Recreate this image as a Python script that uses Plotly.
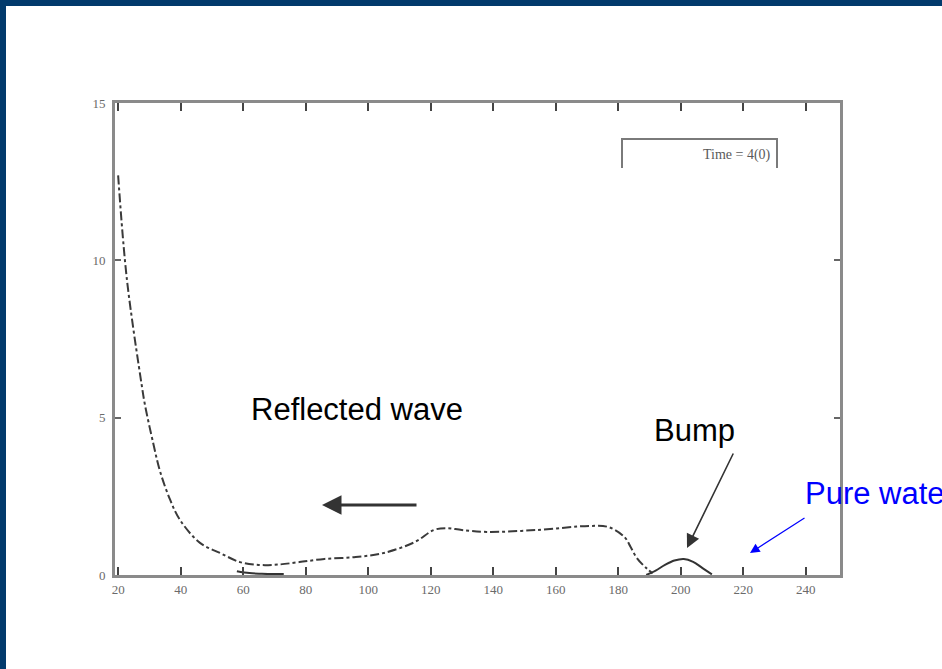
import plotly.graph_objects as go

# Dashed trace: "Time = 4(0)"
wave_x = [20, 22.8, 27.6, 28.6, 31.2, 33.4, 36.6, 39.8, 46.2, 52.6, 59, 65, 71, 78, 86, 96,
          105, 115, 121, 125, 130, 138, 154, 171, 177, 182, 184, 186, 189, 191]
wave_y = [12.7, 9.4, 6.0, 5.4, 4.2, 3.3, 2.4, 1.75, 1.02, 0.70, 0.41, 0.32, 0.33, 0.41, 0.51, 0.57,
          0.70, 1.05, 1.43, 1.49, 1.43, 1.37, 1.43, 1.56, 1.52, 1.21, 0.89, 0.54, 0.22, 0.05]

# Solid trace near the base line and the bump
solid_x = [58, 62, 66, 70, 73, None, 189, 192, 195, 198, 201, 204, 207, 210]
solid_y = [0.12, 0.06, 0.04, 0.03, 0.03, None, 0.0, 0.14, 0.32, 0.46, 0.51, 0.42, 0.22, 0.02]

x_ticks = [20, 40, 60, 80, 100, 120, 140, 160, 180, 200, 220, 240]
y_ticks = [0, 5, 10, 15]
legend_label = "Time = 4(0)"

NAVY = "#023a6c"
AXIS = "#8a8a8a"
TICKFONT = dict(family="Liberation Serif", size=13, color="#6a6a6a")

fig = go.Figure()
fig.add_trace(go.Scatter(x=wave_x, y=wave_y, mode="lines", name=legend_label,
                         line=dict(color="#3a3a3a", width=2, dash="dashdot", shape="spline"),
                         showlegend=False))
fig.add_trace(go.Scatter(x=solid_x, y=solid_y, mode="lines", name="bump",
                         line=dict(color="#333333", width=2, shape="spline"),
                         showlegend=False, connectgaps=False))

fig.update_xaxes(range=[19, 251], tickvals=x_ticks, ticktext=[str(v) for v in x_ticks],
                 showgrid=False, zeroline=False, showline=True, linecolor=AXIS, linewidth=3,
                 mirror="ticks", ticks="inside", ticklen=8, tickwidth=2, tickcolor="#444444",
                 tickfont=TICKFONT)
fig.update_yaxes(range=[0, 15], tickvals=y_ticks, ticktext=[str(v) for v in y_ticks],
                 showgrid=False, zeroline=False, showline=True, linecolor=AXIS, linewidth=3,
                 mirror="ticks", ticks="inside", ticklen=6, tickwidth=1.5, tickcolor="#666666",
                 tickfont=TICKFONT, ticklabelstandoff=4)

W, H = 942, 669
L, R, T, B = 115, 102, 103, 94
pw, ph = W - L - R, H - T - B

def px(xp):
    return (xp - L) / pw

def py(yp):
    return (H - B - yp) / ph

shapes = [
    # legend bracket
    dict(type="path", xref="paper", yref="paper",
         path=f"M {px(622)} {py(168)} L {px(622)} {py(139)} L {px(777)} {py(139)} L {px(777)} {py(168)}",
         line=dict(color="#7a7a7a", width=2)),
    # navy strips (top and left)
    dict(type="rect", xref="paper", yref="paper", x0=px(0), x1=px(W + 10),
         y0=py(6), y1=py(-10), line=dict(width=0), fillcolor=NAVY),
    dict(type="rect", xref="paper", yref="paper", x0=px(-10), x1=px(6),
         y0=py(H + 10), y1=py(-10), line=dict(width=0), fillcolor=NAVY),
]

annotations = [
    dict(xref="paper", yref="paper", x=px(357), y=py(409), text="Reflected wave",
         showarrow=False, font=dict(family="Liberation Sans", size=31, color="black"),
         xanchor="center", yanchor="middle"),
    dict(xref="paper", yref="paper", x=px(694), y=py(430), text="Bump",
         showarrow=False, font=dict(family="Liberation Sans", size=31, color="black"),
         xanchor="center", yanchor="middle"),
    dict(xref="paper", yref="paper", x=px(803), y=py(493), text="Pure water",
         showarrow=False, font=dict(family="Liberation Sans", size=31, color="#0000ff"),
         xanchor="left", yanchor="middle"),
    dict(xref="paper", yref="paper", x=px(773), y=py(155), text=legend_label,
         showarrow=False, font=dict(family="Liberation Serif", size=14, color="#5a5a5a"),
         xanchor="right", yanchor="middle"),
    # arrows
    dict(xref="paper", yref="paper", x=px(322), y=py(505), ax=96, ay=0, text="",
         showarrow=True, arrowhead=2, arrowsize=1.3, arrowwidth=3, arrowcolor="#333333"),
    dict(xref="paper", yref="paper", x=px(687), y=py(548), ax=47, ay=-96, text="",
         showarrow=True, arrowhead=2, arrowsize=1.7, arrowwidth=1.6, arrowcolor="#333333"),
    dict(xref="paper", yref="paper", x=px(750), y=py(553), ax=56, ay=-36, text="",
         showarrow=True, arrowhead=2, arrowsize=1.6, arrowwidth=1.2, arrowcolor="#0000ff"),
]

fig.update_layout(width=W, height=H, margin=dict(l=L, r=R, t=T, b=B),
                  paper_bgcolor="white", plot_bgcolor="white",
                  shapes=shapes, annotations=annotations, showlegend=False)

fig.write_html("out.html")
